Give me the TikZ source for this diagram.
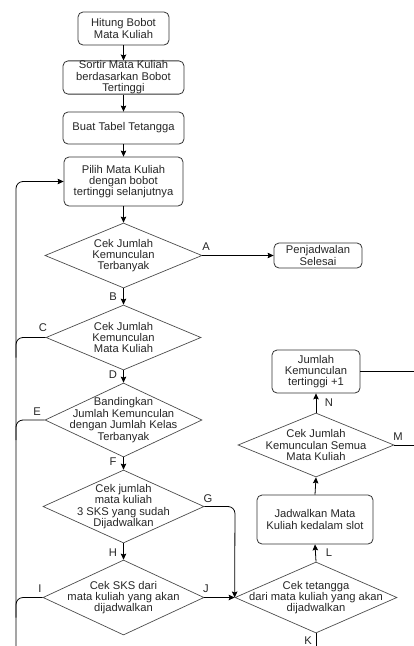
\documentclass[tikz,border=0pt]{standalone}
\usepackage{fontspec}
\setmainfont{Liberation Sans}
\usetikzlibrary{shapes.geometric,arrows.meta}
\begin{document}
\begin{tikzpicture}[x=1pt,y=-1pt,
  every node/.style={text=black!85, font=\fontsize{11.2}{11.4}\selectfont, align=center},
  rbox/.style={draw=black!80, line width=0.8pt, rounded corners=5pt, inner sep=0pt},
  dia/.style={draw=black!70, line width=0.7pt, diamond, inner sep=0pt},
  txt/.style={inner sep=0pt},
  lbl/.style={inner sep=0pt},
  arr/.style={draw=black, line width=0.8pt, -{Stealth[length=6pt,width=5.5pt,inset=1pt]}},
  ln/.style={draw=black, line width=0.8pt},
  loop/.style={draw=black, line width=0.8pt, rounded corners=7pt}
]
\useasboundingbox (0,0) rectangle (414,646);

% boxes
\node[rbox, minimum width=91, minimum height=33] (b1) at (123.5,28.5) {Hitung Bobot\\Mata Kuliah};
\node[rbox, minimum width=121, minimum height=33] (b2) at (123.5,77.5) {Sortir Mata Kuliah\\berdasarkan Bobot\\Tertinggi};
\node[rbox, minimum width=121, minimum height=32] (b3) at (123.5,128) {Buat Tabel Tetangga};
\node[rbox, minimum width=119, minimum height=49] (b4) at (123.5,181.5) {Pilih Mata Kuliah\\dengan bobot\\tertinggi selanjutnya};
\node[rbox, minimum width=88, minimum height=25] (pen) at (318,255.5) {Penjadwalan\\Selesai};
\node[rbox, minimum width=116, minimum height=49] (jad) at (315,519.5) {Jadwalkan Mata\\Kuliah kedalam slot};
\node[rbox, minimum width=88, minimum height=43] (jum) at (316,371.5) {Jumlah\\Kemunculan\\tertinggi +1};

% diamonds
\node[dia, minimum width=157, minimum height=65] (d1) at (123.5,255.5) {};
\node[txt] (d1t) at (d1) {Cek Jumlah\\Kemunculan\\Terbanyak};
\node[dia, minimum width=155, minimum height=65] (d2) at (123.5,337.5) {};
\node[txt] (d2t) at (d2) {Cek Jumlah\\Kemunculan\\Mata Kuliah};
\node[dia, minimum width=157, minimum height=74] (d3) at (123.5,420) {};
\node[txt] (d3t) at (d3) {Bandingkan\\Jumlah Kemunculan\\dengan Jumlah Kelas\\Terbanyak};
\node[dia, minimum width=161, minimum height=73] (d4) at (123.5,506.5) {};
\node[txt] (d4t) at (d4) {Cek jumlah\\mata kuliah\\3 SKS yang sudah\\Dijadwalkan};
\node[dia, minimum width=161, minimum height=75] (d5) at (123.5,597.5) {};
\node[txt] (d5t) at (d5) {Cek SKS dari\\mata kuliah yang akan\\dijadwalkan};
\node[dia, minimum width=162, minimum height=71] (d6) at (316,597.5) {};
\node[txt] (d6t) at (d6) {Cek tetangga\\dari mata kuliah yang akan\\dijadwalkan};
\node[dia, minimum width=156, minimum height=64] (d7) at (316,445) {};
\node[txt] (d7t) at (d7) {Cek Jumlah\\Kemunculan Semua\\Mata Kuliah};

% coordinates
\coordinate (lb) at (16,646);
\coordinate (kb) at (316,646);
\coordinate (me) at (414,445);
\coordinate (je) at (414,371.5);
\coordinate (gx) at (235,506.5);

% main flow
\draw[arr] (b1) -- (b2);
\draw[arr] (b2) -- (b3);
\draw[arr] (b3) -- (b4);
\draw[arr] (b4) -- (d1.north);
\draw[arr] (d1.south) -- (d2.north);
\draw[arr] (d2.south) -- (d3.north);
\draw[arr] (d3.south) -- (d4.north);
\draw[arr] (d4.south) -- (d5.north);
\draw[arr] (d1.east) -- (pen.west);

% left loop
\draw[loop, -{Stealth[length=6pt,width=5.5pt,inset=1pt]}] (lb) |- (b4.west);
\draw[loop] (d2.west) -| ([yshift=-20pt]lb |- d2.west);
\draw[loop] (d3.west) -| ([yshift=-20pt]lb |- d3.west);
\draw[loop] (d5.west) -| ([yshift=-20pt]lb |- d5.west);

% right side
\draw[loop, -{Stealth[length=6pt,width=5.5pt,inset=1pt]}] (d4.east) -- (gx) -- (d6.west);
\draw[arr] (d5.east) -- (d6.west);
\draw[ln] (d6.south) -- (kb);
\draw[arr] (d6.north) -- (jad.south);
\draw[arr] (jad.north) -- (d7.south);
\draw[arr] (d7.north) -- (jum.south);
\draw[ln] (d7.east) -- (me);
\draw[ln] (jum.east) -- (je);

% labels
\node[lbl] (la) at (206,247) {A};
\node[lbl] (lbB) at (113,297) {B};
\node[lbl] (lc) at (43,328) {C};
\node[lbl] (ld) at (113,375) {D};
\node[lbl] (le) at (37,412) {E};
\node[lbl] (lf) at (113,462) {F};
\node[lbl] (lg) at (208,499) {G};
\node[lbl] (lh) at (113,553) {H};
\node[lbl] (li) at (40,589) {I};
\node[lbl] (lj) at (206,589) {J};
\node[lbl] (lk) at (308,641) {K};
\node[lbl] (ll) at (329,553) {L};
\node[lbl] (lm) at (398,437) {M};
\node[lbl] (ln) at (329,403) {N};
\end{tikzpicture}
\end{document}
